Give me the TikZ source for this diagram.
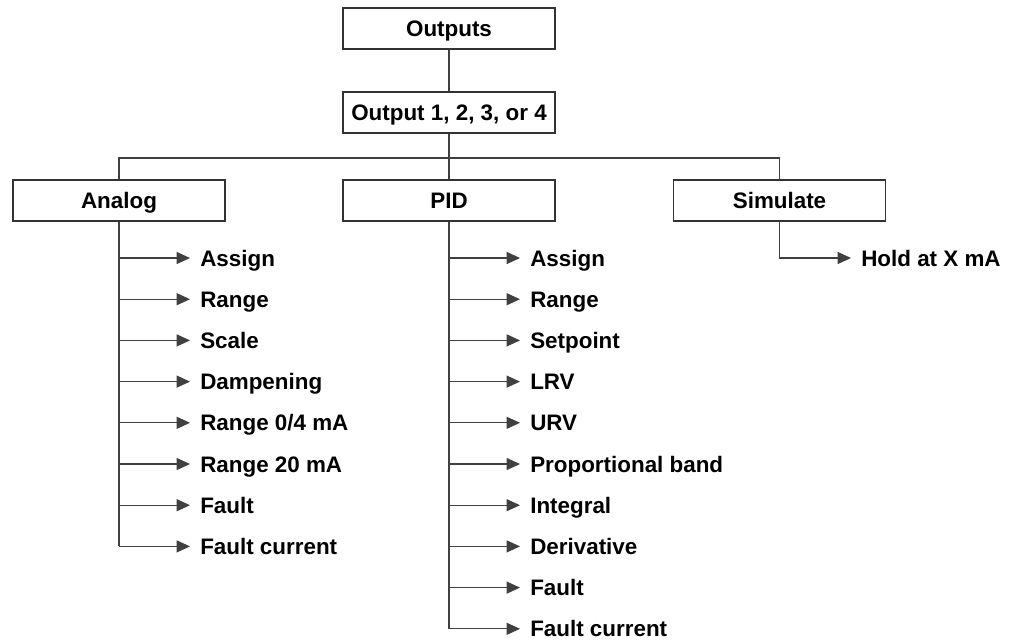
\documentclass[tikz,border=0pt]{standalone}
\usepackage{fontspec}
\setmainfont{Liberation Sans}
\usetikzlibrary{arrows.meta,positioning}

\tikzset{
  box/.style={draw=black!80,line width=1.1pt,minimum width=159pt,minimum height=31pt,
    inner sep=0pt,text height=12pt,text depth=0pt,font=\bfseries\fontsize{16.8}{19}\selectfont},
  item/.style={anchor=west,inner xsep=7.5pt,inner ysep=0pt,text height=12pt,text depth=0pt,
    font=\bfseries\fontsize{16.8}{19}\selectfont},
  link/.style={draw=black!75,line width=0.8pt},
  tip/.style={link,-{Triangle[length=10pt,width=9pt]}}
}

\begin{document}
\begin{tikzpicture}[x=0.75pt,y=-0.75pt]
    \useasboundingbox (0,0) rectangle (1019,640);
    \node[box] (outs) at (449,28.5) {Outputs};
    \node[box] (out) at (449,112.5) {Output 1, 2, 3, or 4};
    \node[box] (ana) at (119,200.5) {Analog};
    \node[box] (pid) at (449,200.5) {PID};
    \node[box] (sim) at (779.5,200.5) {Simulate};
    \coordinate (bus) at (449,158);
    \draw[link] (outs) -- (out);
    \draw[link] (out) -- (pid);
    \draw[link] (ana.north) |- (bus) -| (sim.north);
    % analog branch
    \foreach \txt [count=\i from 0] in {Assign,Range,Scale,Dampening,{Range 0/4 mA},{Range 20 mA},Fault,{Fault current}}{
        \node[item] (an\i) at (190,258+41.2*\i) {\txt};
        \draw[tip] (ana.south |- an\i) -- (an\i.west);
    }
    \draw[link] (ana.south) -- (ana.south |- an7);
    % pid branch
    \foreach \txt [count=\i from 0] in {Assign,Range,Setpoint,LRV,URV,{Proportional band},Integral,Derivative,Fault,{Fault current}}{
        \node[item] (pi\i) at (520,258+41.2*\i) {\txt};
        \draw[tip] (pid.south |- pi\i) -- (pi\i.west);
    }
    \draw[link] (pid.south) -- (pid.south |- pi9);
    % simulate branch
    \node[item] (hold) at (851,258) {Hold at X mA};
    \draw[tip] (sim.south) |- (hold.west);
\end{tikzpicture}
\end{document}
